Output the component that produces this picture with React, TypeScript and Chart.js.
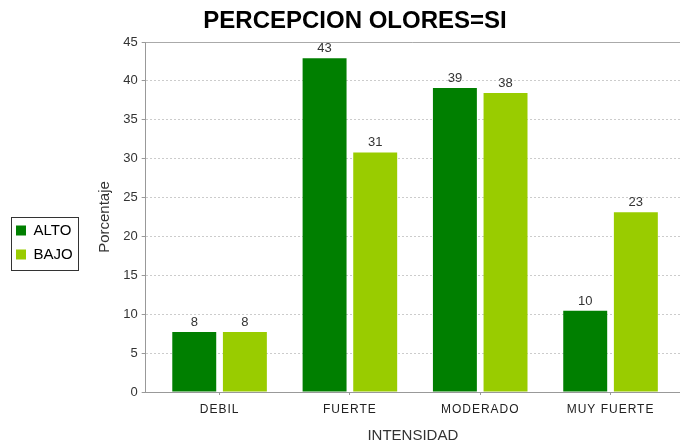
import React, { useEffect, useRef } from "react";
import { Chart, registerables } from "chart.js";

Chart.register(...registerables);

const categories = ["DEBIL", "FUERTE", "MODERADO", "MUY FUERTE"];
const seriesNames = ["ALTO", "BAJO"];
const altoValues = [7.7, 42.9, 39.1, 10.45];
const bajoValues = [7.7, 30.8, 38.45, 23.1];
const yTicks = [0, 5, 10, 15, 20, 25, 30, 35, 40, 45];
const titleText = "PERCEPCION OLORES=SI";
const xTitle = "INTENSIDAD";
const yTitle = "Porcentaje";

const FONT = "'Liberation Sans', Arial, sans-serif";

const chartDecor = {
  id: "chartDecor",
  beforeDraw(chart: any) {
    const xs: any = chart.scales.x;
    if (xs && !xs._lsPatched) {
      const orig = xs.drawLabels.bind(xs);
      xs.drawLabels = (area: any) => {
        const c: any = chart.ctx;
        const prev = c.letterSpacing;
        c.letterSpacing = "1px";
        orig(area);
        c.letterSpacing = prev || "0px";
      };
      xs._lsPatched = true;
    }
  },
  afterDatasetsDraw(chart: any) {
    const ctx = chart.ctx;
    ctx.save();
    ctx.font = `13px ${FONT}`;
    ctx.fillStyle = "#333333";
    ctx.textAlign = "center";
    ctx.textBaseline = "alphabetic";
    chart.data.datasets.forEach((ds: any, di: number) => {
      const meta = chart.getDatasetMeta(di);
      meta.data.forEach((el: any, i: number) => {
        const v = ds.data[i].y;
        ctx.fillText(String(Math.round(v)), el.x, el.y - 6);
      });
    });
    ctx.restore();
  },
  afterDraw(chart: any) {
    const ctx = chart.ctx;
    const area = chart.chartArea;
    ctx.save();
    ctx.strokeStyle = "#aaaaaa";
    ctx.lineWidth = 1;
    ctx.beginPath();
    ctx.moveTo(area.left, Math.round(area.top) + 0.5);
    ctx.lineTo(area.right, Math.round(area.top) + 0.5);
    ctx.stroke();
    ctx.font = `bold 24px ${FONT}`;
    ctx.fillStyle = "#000000";
    ctx.textAlign = "center";
    ctx.textBaseline = "alphabetic";
    ctx.fillText(titleText, 355, 28);
    const lg = chart.legend;
    if (lg && lg.legendHitBoxes && lg.legendHitBoxes.length) {
      const hb = lg.legendHitBoxes;
      let l = Infinity, t = Infinity, r = -Infinity, b = -Infinity;
      hb.forEach((h: any) => {
        l = Math.min(l, h.left);
        t = Math.min(t, h.top);
        r = Math.max(r, h.left + h.width);
        b = Math.max(b, h.top + h.height);
      });
      const x0 = Math.round(l - 5) + 0.5;
      const y0 = Math.round(t - 6) + 0.5;
      const x1 = Math.round(r + 5) + 0.5;
      const y1 = Math.round(b + 8) + 0.5;
      ctx.strokeStyle = "#333333";
      ctx.lineWidth = 1;
      ctx.strokeRect(x0, y0, x1 - x0, y1 - y0);
    }
    ctx.restore();
  },
};

export default function App() {
  const ref = useRef<HTMLCanvasElement | null>(null);

  useEffect(() => {
    if (!ref.current) return;
    const chart = new Chart(ref.current, {
      type: "bar",
      data: {
        datasets: [
          {
            label: seriesNames[0],
            data: altoValues.map((v, i) => ({ x: i, y: v })),
            backgroundColor: "#007F00",
            borderWidth: 0,
          },
          {
            label: seriesNames[1],
            data: bajoValues.map((v, i) => ({ x: i, y: v })),
            backgroundColor: "#99CC00",
            borderWidth: 0,
          },
        ],
      },
      options: {
        responsive: false,
        animation: false,
        maintainAspectRatio: false,
        categoryPercentage: 0.777,
        barPercentage: 0.868,
        layout: { padding: { left: 7, top: 42, right: 0, bottom: 0 } },
        plugins: {
          title: { display: false },
          tooltip: { enabled: false },
          legend: {
            display: true,
            position: "left",
            align: "center",
            labels: {
              boxWidth: 10,
              boxHeight: 10,
              padding: 9,
              color: "#000000",
              font: { family: FONT, size: 15 },
            },
          },
        },
        scales: {
          x: {
            type: "linear",
            offset: false,
            min: -0.567,
            max: 3.533,
            afterBuildTicks: (axis: any) => {
              axis.ticks = categories.map((_, i) => ({ value: i }));
            },
            afterFit: (scale: any) => {
              scale.height = 51;
            },
            ticks: {
              autoSkip: false,
              maxRotation: 0,
              padding: 7,
              color: "#222222",
              font: { family: FONT, size: 12 },
              callback: (v: any) => categories[v] ?? "",
            },
            grid: {
              display: true,
              offset: false,
              drawOnChartArea: false,
              drawTicks: true,
              tickLength: 3,
              tickColor: "#999999",
            },
            border: { display: true, color: "#999999" },
            title: {
              display: true,
              text: xTitle,
              color: "#333333",
              font: { family: FONT, size: 15, lineHeight: 1 },
              padding: { top: 0, bottom: 0 },
            },
          },
          y: {
            min: 0,
            max: 45,
            afterBuildTicks: (axis: any) => {
              axis.ticks = yTicks.map((v) => ({ value: v }));
            },
            afterFit: (scale: any) => {
              scale.width = 63;
            },
            ticks: {
              padding: 4,
              color: "#333333",
              font: { family: FONT, size: 13 },
            },
            grid: {
              color: "#cccccc",
              drawTicks: true,
              tickLength: 4,
              tickColor: "#999999",
              tickBorderDash: [],
            },
            border: { display: true, color: "#999999", dash: [2, 2] },
            title: {
              display: true,
              text: yTitle,
              color: "#333333",
              font: { family: FONT, size: 15, lineHeight: 1.2 },
              padding: { top: 13, bottom: 0 },
            },
          },
        },
      },
      plugins: [chartDecor],
    } as any);
    return () => chart.destroy();
  }, []);

  return (
    <div style={{ position: "fixed", left: 0, top: 0, width: 680, height: 443, background: "#ffffff" }}>
      <canvas ref={ref} width={680} height={443} />
    </div>
  );
}
